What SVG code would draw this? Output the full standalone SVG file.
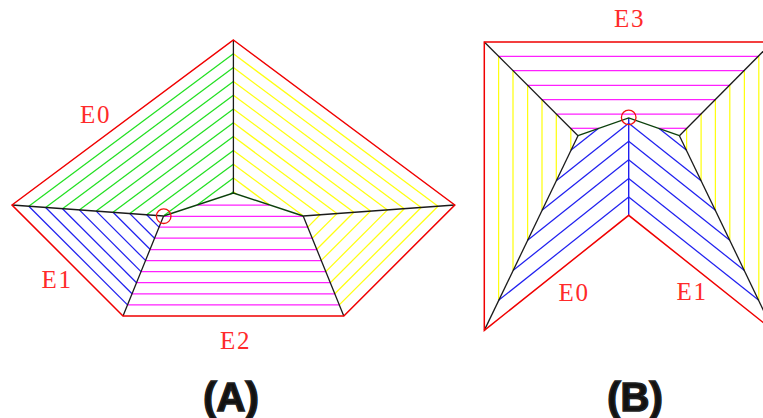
<svg xmlns="http://www.w3.org/2000/svg" xmlns:xlink="http://www.w3.org/1999/xlink" width="763" height="418" viewBox="0 0 763 418">
<style>
line,polyline,polygon,circle{fill:none;stroke-width:1.25}
.g{stroke:#22e022}.y{stroke:#ffff10}.b{stroke:#2020f0}.m{stroke:#ff20ff;stroke-width:1.4}
.k{stroke:#1a1a1a;stroke-width:1.3}.d{stroke:#0c400c;stroke-width:1.4}
.r{stroke:#f00000;stroke-width:1.5}.c{stroke:#f01010;stroke-width:1.3}
.t{font-family:"Liberation Serif",serif;font-size:25px;letter-spacing:1.5px;fill:#ff2a2a;text-anchor:middle}
.h{font-family:"Liberation Sans",Arial,sans-serif;font-size:40px;font-weight:bold;fill:#111;stroke:#222;stroke-width:1.6;text-anchor:middle}
</style>
<defs>
<g id="ah1">
<line x1="28.8" y1="206.2" x2="233.4" y2="53.8"/><line x1="45.6" y1="207.5" x2="233.4" y2="67.6"/><line x1="62.5" y1="208.7" x2="233.4" y2="81.4"/><line x1="79.3" y1="209.9" x2="233.4" y2="95.2"/><line x1="96.2" y1="211.1" x2="233.4" y2="109"/><line x1="113" y1="212.3" x2="233.4" y2="122.8"/><line x1="129.8" y1="213.6" x2="233.4" y2="136.6"/><line x1="146.7" y1="214.8" x2="233.4" y2="150.4"/><line x1="164" y1="215.6" x2="233.4" y2="164.2"/><line x1="197.5" y1="204.8" x2="233.4" y2="178"/><line x1="230.4" y1="194" x2="233.4" y2="191.8"/>
</g>
<g id="ah2">
<line x1="28.8" y1="206.2" x2="127.5" y2="304.9"/><line x1="45.6" y1="207.5" x2="132" y2="293.8"/><line x1="62.5" y1="208.7" x2="136.5" y2="282.7"/><line x1="79.3" y1="209.9" x2="141" y2="271.6"/><line x1="96.2" y1="211.1" x2="145.5" y2="260.4"/><line x1="113" y1="212.3" x2="150" y2="249.3"/><line x1="129.8" y1="213.6" x2="154.5" y2="238.2"/><line x1="146.7" y1="214.8" x2="159" y2="227.1"/>
</g>
<g id="bv">
<line x1="498.6" y1="56.3" x2="498.6" y2="300.3"/><line x1="513" y1="70.7" x2="513" y2="270.5"/><line x1="527.6" y1="85.3" x2="527.6" y2="240.2"/><line x1="542" y1="99.7" x2="542" y2="210.3"/><line x1="556.3" y1="114" x2="556.3" y2="180.7"/><line x1="570.8" y1="128.3" x2="570.8" y2="150.2"/>
</g>
<g id="bc">
<line x1="498.6" y1="300.3" x2="628.7" y2="197"/><line x1="513" y1="270.5" x2="628.7" y2="178.5"/><line x1="527.6" y1="240.2" x2="628.7" y2="159.7"/><line x1="542" y1="210.3" x2="628.7" y2="141.3"/><line x1="556.3" y1="180.7" x2="628.7" y2="123.2"/><line x1="570.8" y1="150.2" x2="598.3" y2="128.4"/>
</g>
<g id="bm">
<line x1="570.8" y1="128.3" x2="599" y2="128.3"/>
</g>
</defs>

<g id="diagram-a">
<use href="#ah1" class="g"/>
<use href="#ah1" class="y" transform="translate(466.8,0) scale(-1,1)"/>
<use href="#ah2" class="b"/>
<use href="#ah2" class="y" transform="translate(466.8,0) scale(-1,1)"/>
<g class="m">
<line x1="197.5" y1="205.2" x2="269.3" y2="205.2"/><line x1="163.6" y1="216.3" x2="303.2" y2="216.3"/><line x1="159" y1="227.1" x2="307.8" y2="227.1"/><line x1="154.5" y1="238.2" x2="312.3" y2="238.2"/><line x1="150" y1="249.6" x2="316.8" y2="249.6"/><line x1="145.5" y1="260.5" x2="321.3" y2="260.5"/><line x1="141" y1="271.6" x2="325.8" y2="271.6"/><line x1="136.5" y1="282.6" x2="330.3" y2="282.6"/><line x1="132" y1="293.8" x2="334.8" y2="293.8"/><line x1="127.5" y1="304.9" x2="339.3" y2="304.9"/>
</g>
<g>
<line class="k" x1="233.4" y1="40" x2="233.4" y2="193"/>
<line class="k" x1="12" y1="205" x2="163.6" y2="216"/>
<line class="k" x1="454.8" y1="205" x2="303.2" y2="216"/>
<line class="k" x1="163.6" y1="216" x2="123" y2="316"/>
<line class="k" x1="303.2" y1="216" x2="343.8" y2="316"/>
<polyline class="d" points="163.6,216 233.4,193 303.2,216"/>
</g>
<polygon class="r" points="233.4,40 454.8,205 343.8,316 123,316 12,205"/>
<circle class="c" cx="163.7" cy="216.2" r="7.3"/>
<text class="t" x="95.5" y="123">E0</text>
<text class="t" x="57" y="287.5">E1</text>
<text class="t" x="235.5" y="348.5">E2</text>
<text class="h" x="231" y="411">(A)</text>
</g>

<g id="diagram-b">
<use href="#bv" class="y"/>
<use href="#bv" class="y" transform="translate(1257.4,0) scale(-1,1)"/>
<use href="#bc" class="b"/>
<use href="#bc" class="b" transform="translate(1257.4,0) scale(-1,1)"/>
<use href="#bm" class="m"/>
<use href="#bm" class="m" transform="translate(1257.4,0) scale(-1,1)"/>
<g class="m">
<line x1="498.6" y1="56.3" x2="758.8" y2="56.3"/><line x1="513" y1="70.7" x2="744.4" y2="70.7"/><line x1="527.6" y1="85.3" x2="729.8" y2="85.3"/><line x1="542" y1="99.7" x2="715.4" y2="99.7"/><line x1="556.3" y1="114" x2="701.1" y2="114"/>
</g>
<line class="b" x1="628.7" y1="118" x2="628.7" y2="215.3" style="stroke-width:1.4"/>
<g>
<line class="k" x1="484.3" y1="42" x2="578" y2="135.7"/>
<line class="k" x1="772.4" y1="42" x2="679.4" y2="135.7"/>
<line class="k" x1="578" y1="135.7" x2="484.3" y2="330.4"/>
<line class="k" x1="679.4" y1="135.7" x2="773.1" y2="330.4"/>
<polyline class="d" points="578,135.7 628.7,117.9 679.4,135.7"/>
</g>
<polygon class="r" points="773.1,42 484.3,42 484.3,330.4 628.7,215.3 773.1,330.4"/>
<circle class="c" cx="628.7" cy="117.4" r="7.3"/>
<text class="t" x="629.5" y="27">E3</text>
<text class="t" x="574" y="300.5">E0</text>
<text class="t" x="692" y="299.5">E1</text>
<text class="h" x="635" y="411">(B)</text>
</g>
</svg>
